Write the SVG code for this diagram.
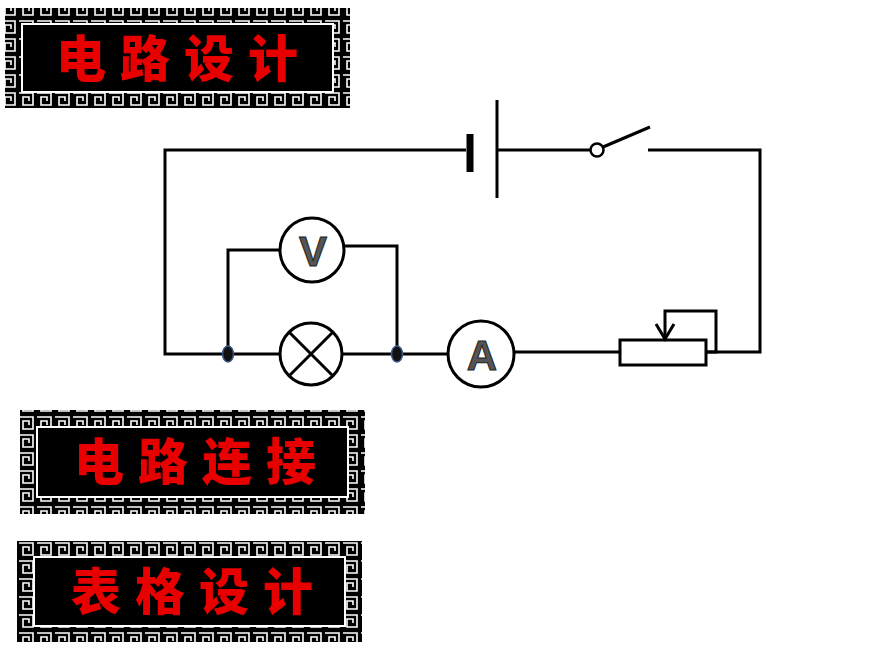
<svg xmlns="http://www.w3.org/2000/svg" width="870" height="653" viewBox="0 0 870 653">
<defs>
<pattern id="fret" width="18" height="18" patternUnits="userSpaceOnUse">
<rect width="18" height="18" fill="#000"/>
<path d="M1 3 H15 V15 H5 V7 H11 V11" fill="none" stroke="#fff" stroke-width="1.6"/>
</pattern>
<style>
.w{fill:none;stroke:#000;stroke-width:3}
.meter{fill:#fff;stroke:#000;stroke-width:3}
.ml{font-family:"Liberation Sans",Arial,sans-serif;font-weight:bold;font-size:42px;fill:#555;stroke:#222;stroke-width:1;text-anchor:middle}
.bt{font-family:"Noto Sans CJK SC",sans-serif;font-weight:900;font-size:50px;fill:#e80000;text-anchor:middle;letter-spacing:14px}
.frame{fill:url(#fret)}
.inner{fill:#000;stroke:#fff;stroke-width:2}
</style>
</defs>
<g id="banner1">
<rect class="frame" x="5" y="8" width="345" height="100"/>
<rect class="inner" x="22" y="24" width="311" height="68"/>
<text class="bt" x="184" y="77">电路设计</text>
</g>
<g id="banner2">
<rect class="frame" x="20" y="410" width="345" height="104"/>
<rect class="inner" x="37" y="427" width="311" height="70"/>
<text class="bt" x="202" y="480">电路连接</text>
</g>
<g id="banner3">
<rect class="frame" x="17" y="541" width="345" height="101"/>
<rect class="inner" x="34" y="557" width="311" height="69"/>
<text class="bt" x="199" y="610">表格设计</text>
</g>
<g id="connectors">
<path class="w" d="M466 150 H165 V354 H280"/>
<path class="w" d="M497 150 H590"/>
<path class="w" d="M648 150 H760 V352 H706"/>
<path class="w" d="M343 354 H449"/>
<path class="w" d="M514 352 H620"/>
<path class="w" d="M228 354 V250 H280"/>
<path class="w" d="M344 246 H397 V354"/>
</g>
<g id="battery">
<line x1="470" y1="134" x2="470" y2="172" stroke="#000" stroke-width="7"/>
<line x1="497" y1="100" x2="497" y2="198" stroke="#000" stroke-width="3"/>
</g>
<g id="switch">
<circle cx="597" cy="150" r="6.5" fill="#fff" stroke="#000" stroke-width="2.5"/>
<line x1="603" y1="147" x2="650" y2="127" stroke="#000" stroke-width="3"/>
</g>
<g id="voltmeter">
<circle class="meter" cx="312" cy="250" r="32"/>
<text class="ml" x="313" y="266">V</text>
</g>
<g id="lamp">
<circle class="meter" cx="311" cy="354" r="31"/>
<path d="M289 332 L333 376 M333 332 L289 376" stroke="#000" stroke-width="3"/>
</g>
<g id="ammeter">
<circle class="meter" cx="481" cy="354" r="33"/>
<text class="ml" x="482" y="370">A</text>
</g>
<g id="rheostat">
<rect x="620" y="340" width="86" height="25" fill="#fff" stroke="#000" stroke-width="3"/>
<path class="w" d="M706 352 H716 V311 H665 V339"/>
<path class="w" d="M656 324 L665 339 L674 324"/>
</g>
<g id="junctions">
<ellipse cx="228" cy="354" rx="5.5" ry="8" fill="#111" stroke="#3a5a8a" stroke-width="1.5"/>
<ellipse cx="397" cy="354" rx="5.5" ry="8" fill="#111" stroke="#3a5a8a" stroke-width="1.5"/>
</g>
</svg>
